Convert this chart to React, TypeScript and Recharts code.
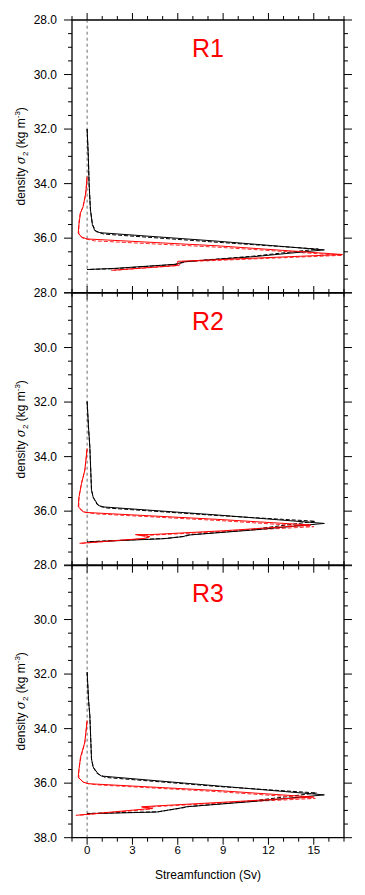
import React from 'react';
import { ScatterChart, Scatter, XAxis, YAxis, ReferenceLine, ReferenceArea } from 'recharts';

// ---------- data ----------
const X_TICKS = [-1, 0, 1, 2, 3, 4, 5, 6, 7, 8, 9, 10, 11, 12, 13, 14, 15, 16, 17];
const X_MAJOR = [0, 3, 6, 9, 12, 15];
const Y_TICKS = [28, 28.5, 29, 29.5, 30, 30.5, 31, 31.5, 32, 32.5, 33, 33.5, 34, 34.5, 35, 35.5, 36, 36.5, 37, 37.5, 38];
const Y_MAJOR = [28, 30, 32, 34, 36, 38];
const PANEL_TITLES = ['R1', 'R2', 'R3'];

const R1_BLACK_SOLID = [
  { v: 0, d: 32.0 }, { v: 0.08, d: 33.0 }, { v: 0.13, d: 34.0 }, { v: 0.22, d: 34.96 }, { v: 0.35, d: 35.5 },
  { v: 0.5, d: 35.72 }, { v: 0.85, d: 35.8 }, { v: 8.6, d: 36.11 }, { v: 15.7, d: 36.43 },
  { v: 11.0, d: 36.68 }, { v: 6.5, d: 36.86 }, { v: 6.2, d: 36.9 }, { v: 5.8, d: 36.96 }, { v: 1.8, d: 37.11 }, { v: 0, d: 37.15 },
];
const R1_BLACK_DASHED = [
  { v: 0, d: 32.0 }, { v: 0.08, d: 33.0 }, { v: 0.13, d: 34.0 }, { v: 0.22, d: 34.96 }, { v: 0.35, d: 35.5 },
  { v: 0.6, d: 35.76 }, { v: 1.1, d: 35.85 }, { v: 8.6, d: 36.15 }, { v: 15.3, d: 36.4 },
  { v: 11.0, d: 36.66 }, { v: 6.7, d: 36.85 }, { v: 6.3, d: 36.9 }, { v: 5.8, d: 36.97 }, { v: 1.8, d: 37.12 }, { v: 0, d: 37.15 },
];
const R1_RED_SOLID = [
  { v: 0, d: 33.74 }, { v: -0.09, d: 34.35 }, { v: -0.26, d: 34.84 }, { v: -0.44, d: 35.08 }, { v: -0.53, d: 35.45 },
  { v: -0.59, d: 35.81 }, { v: -0.37, d: 35.96 }, { v: 0, d: 36.03 }, { v: 8.6, d: 36.28 }, { v: 16.9, d: 36.6 },
  { v: 6.0, d: 36.85 }, { v: 6.0, d: 37.0 }, { v: 1.6, d: 37.18 },
];
const R1_RED_DASHED = [
  { v: 0, d: 33.8 }, { v: -0.1, d: 34.4 }, { v: -0.28, d: 34.86 }, { v: -0.46, d: 35.1 }, { v: -0.55, d: 35.47 },
  { v: -0.55, d: 35.85 }, { v: -0.3, d: 36.0 }, { v: 0.5, d: 36.1 }, { v: 8.6, d: 36.33 }, { v: 16.9, d: 36.63 },
  { v: 6.2, d: 36.87 }, { v: 6.1, d: 37.0 }, { v: 1.8, d: 37.18 },
];

const R2_BLACK_SOLID = [
  { v: 0, d: 31.98 }, { v: 0.1, d: 33.0 }, { v: 0.18, d: 33.64 }, { v: 0.29, d: 35.22 }, { v: 0.4, d: 35.49 },
  { v: 0.73, d: 35.78 }, { v: 0.95, d: 35.84 }, { v: 8.6, d: 36.14 }, { v: 15.7, d: 36.45 },
  { v: 10.8, d: 36.7 }, { v: 6.6, d: 36.88 }, { v: 6.4, d: 36.93 }, { v: 5.1, d: 37.01 }, { v: 0, d: 37.13 },
];
const R2_BLACK_DASHED = [
  { v: 0, d: 31.98 }, { v: 0.1, d: 33.0 }, { v: 0.18, d: 33.64 }, { v: 0.29, d: 35.22 }, { v: 0.4, d: 35.49 },
  { v: 0.65, d: 35.75 }, { v: 1.2, d: 35.88 }, { v: 8.6, d: 36.16 }, { v: 15.1, d: 36.37 },
  { v: 10.8, d: 36.68 }, { v: 6.8, d: 36.87 }, { v: 6.5, d: 36.92 }, { v: 5.2, d: 37.0 }, { v: 0, d: 37.12 },
];
const R2_RED_SOLID = [
  { v: 0, d: 33.7 }, { v: -0.15, d: 34.5 }, { v: -0.37, d: 34.98 }, { v: -0.53, d: 35.47 }, { v: -0.59, d: 35.84 },
  { v: -0.26, d: 36.02 }, { v: 0, d: 36.05 }, { v: 8.6, d: 36.3 }, { v: 14.8, d: 36.51 },
  { v: 9.0, d: 36.72 }, { v: 4.2, d: 36.86 }, { v: 3.2, d: 36.86 }, { v: 4.15, d: 36.93 }, { v: 3.8, d: 37.0 }, { v: -0.5, d: 37.18 },
];
const R2_RED_DASHED = [
  { v: 0, d: 33.75 }, { v: -0.16, d: 34.52 }, { v: -0.38, d: 35.0 }, { v: -0.55, d: 35.5 }, { v: -0.55, d: 35.88 },
  { v: -0.2, d: 36.04 }, { v: 0.6, d: 36.1 }, { v: 8.6, d: 36.34 }, { v: 15.0, d: 36.57 },
  { v: 9.2, d: 36.74 }, { v: 4.3, d: 36.88 }, { v: 3.4, d: 36.88 }, { v: 4.1, d: 36.95 }, { v: 3.7, d: 37.01 }, { v: -0.4, d: 37.18 },
];

const R3_BLACK_SOLID = [
  { v: 0, d: 31.93 }, { v: 0.1, d: 33.0 }, { v: 0.18, d: 33.52 }, { v: 0.29, d: 35.11 }, { v: 0.4, d: 35.41 },
  { v: 0.73, d: 35.66 }, { v: 0.95, d: 35.74 }, { v: 8.6, d: 36.1 }, { v: 15.7, d: 36.43 },
  { v: 10.8, d: 36.68 }, { v: 6.5, d: 36.87 }, { v: 6.2, d: 36.91 }, { v: 4.6, d: 37.06 }, { v: 0, d: 37.12 },
];
const R3_BLACK_DASHED = [
  { v: 0, d: 31.93 }, { v: 0.1, d: 33.0 }, { v: 0.18, d: 33.52 }, { v: 0.29, d: 35.11 }, { v: 0.4, d: 35.41 },
  { v: 0.65, d: 35.64 }, { v: 1.2, d: 35.79 }, { v: 8.6, d: 36.12 }, { v: 15.2, d: 36.36 },
  { v: 10.8, d: 36.66 }, { v: 6.7, d: 36.86 }, { v: 6.4, d: 36.9 }, { v: 4.7, d: 37.05 }, { v: 0, d: 37.11 },
];
const R3_RED_SOLID = [
  { v: 0, d: 33.7 }, { v: -0.15, d: 34.5 }, { v: -0.44, d: 35.05 }, { v: -0.53, d: 35.47 }, { v: -0.59, d: 35.78 },
  { v: -0.26, d: 35.96 }, { v: 0.07, d: 36.02 }, { v: 8.6, d: 36.27 }, { v: 15.0, d: 36.51 },
  { v: 9.0, d: 36.7 }, { v: 4.4, d: 36.84 }, { v: 3.6, d: 36.87 }, { v: 4.35, d: 36.92 }, { v: 3.8, d: 36.95 }, { v: -0.75, d: 37.18 },
];
const R3_RED_DASHED = [
  { v: 0, d: 33.75 }, { v: -0.16, d: 34.52 }, { v: -0.42, d: 35.08 }, { v: -0.55, d: 35.5 }, { v: -0.55, d: 35.82 },
  { v: -0.2, d: 35.99 }, { v: 0.6, d: 36.06 }, { v: 8.6, d: 36.31 }, { v: 15.1, d: 36.56 },
  { v: 9.2, d: 36.72 }, { v: 4.5, d: 36.86 }, { v: 3.7, d: 36.89 }, { v: 4.3, d: 36.94 }, { v: 3.9, d: 36.97 }, { v: -0.6, d: 37.18 },
];

const PANELS = [
  { bs: R1_BLACK_SOLID, bd: R1_BLACK_DASHED, rs: R1_RED_SOLID, rd: R1_RED_DASHED },
  { bs: R2_BLACK_SOLID, bd: R2_BLACK_DASHED, rs: R2_RED_SOLID, rd: R2_RED_DASHED },
  { bs: R3_BLACK_SOLID, bd: R3_BLACK_DASHED, rs: R3_RED_SOLID, rd: R3_RED_DASHED },
];

// ---------- layout ----------
const FONT = '"Liberation Sans", Arial, Helvetica, sans-serif';
const W = 365;
const LEFT = 72;
const RIGHT = 344;
const PT = 30;
const PH = 272.7;
const PANEL_TOPS = [20, 292.7, 565.4];

const Empty = () => <g />;

function Panel({ idx }: { idx: number }) {
  const last = idx === 2;
  const PB = last ? 60 : 30;
  const H = PT + PH + PB;
  const bottomY = PT + PH;
  const p = PANELS[idx];

  const YTick = (props: any) => {
    const { y, payload } = props;
    const v = payload.value;
    const major = Y_MAJOR.includes(v);
    const len = major ? 8 : 4;
    const showLabel = major && (v !== 38 || last);
    return (
      <g>
        <line x1={LEFT - len} x2={LEFT} y1={y} y2={y} stroke="#000" strokeWidth={1} />
        <line x1={RIGHT} x2={RIGHT + len} y1={y} y2={y} stroke="#000" strokeWidth={1} />
        {showLabel && (
          <text x={57} y={y} dy={4.3} textAnchor="end" fontSize={12} fontFamily={FONT} fill="#000">
            {v.toFixed(1)}
          </text>
        )}
      </g>
    );
  };

  const XTick = (props: any) => {
    const { x, payload } = props;
    const v = payload.value;
    const major = X_MAJOR.includes(v);
    const len = major ? 7 : 4;
    return (
      <g>
        <line x1={x} x2={x} y1={PT - len} y2={PT} stroke="#000" strokeWidth={1} />
        <line x1={x} x2={x} y1={bottomY} y2={bottomY + len} stroke="#000" strokeWidth={1} />
        {last && major && (
          <text x={x} y={bottomY + 16} textAnchor="middle" fontSize={11.5} fontFamily={FONT} fill="#000">
            {String(v)}
          </text>
        )}
      </g>
    );
  };

  const cy = PT + PH / 2;

  return (
    <div style={{ position: 'absolute', left: 0, top: PANEL_TOPS[idx] - PT }}>
      <ScatterChart width={W} height={H} margin={{ top: PT, right: W - RIGHT, bottom: 0, left: 0 }}>
        <XAxis
          type="number"
          dataKey="v"
          domain={[-1, 17]}
          ticks={X_TICKS}
          interval={0}
          tick={(tp: any) => <XTick {...tp} />}
          tickLine={false}
          axisLine={false}
          height={PB}
          allowDataOverflow
        />
        <YAxis
          type="number"
          dataKey="d"
          domain={[28, 38]}
          ticks={Y_TICKS}
          interval={0}
          reversed
          tick={(tp: any) => <YTick {...tp} />}
          tickLine={false}
          axisLine={false}
          width={LEFT}
          allowDataOverflow
        />
        <ReferenceLine x={0} stroke="#444" strokeDasharray="3 3" strokeWidth={0.8} />
        <Scatter data={p.bd} shape={Empty} isAnimationActive={false}
          line={{ stroke: '#000', strokeWidth: 1, strokeDasharray: '4 2' }} fill="#000" />
        <Scatter data={p.rd} shape={Empty} isAnimationActive={false}
          line={{ stroke: '#ff2a2a', strokeWidth: 1, strokeDasharray: '4 2' }} fill="#ff2a2a" />
        <Scatter data={p.bs} shape={Empty} isAnimationActive={false}
          line={{ stroke: '#000', strokeWidth: 1 }} fill="#000" />
        <Scatter data={p.rs} shape={Empty} isAnimationActive={false}
          line={{ stroke: '#ff0000', strokeWidth: 1 }} fill="#ff0000" />
        <ReferenceArea x1={-1} x2={17} y1={28} y2={38} fill="none" fillOpacity={0} stroke="#000" strokeWidth={1.3} />
        <text x={(LEFT + RIGHT) / 2} y={PT + 37} textAnchor="middle" fontSize={25} fontFamily={FONT} fill="#ff0000">
          {PANEL_TITLES[idx]}
        </text>
        <text x={25} y={cy} transform={`rotate(-90, 25, ${cy})`} textAnchor="middle" fontSize={12} fontFamily={FONT} fill="#000">
          density <tspan fontStyle="italic" fontFamily="'DejaVu Serif', serif">σ</tspan>
          <tspan dy={3} fontSize={8}>2</tspan>
          <tspan dy={-3}> (kg m</tspan>
          <tspan dy={-5} fontSize={8}>-3</tspan>
          <tspan dy={5}>)</tspan>
        </text>
        {last && (
          <text x={(LEFT + RIGHT) / 2} y={bottomY + 41} textAnchor="middle" fontSize={12} fontFamily={FONT} fill="#000">
            Streamfunction (Sv)
          </text>
        )}
      </ScatterChart>
    </div>
  );
}

export default function App() {
  return (
    <div style={{ position: 'relative', width: W, height: 895 }}>
      <div style={{ position: 'absolute', left: -8, top: -8 }}>
        <Panel idx={0} />
        <Panel idx={1} />
        <Panel idx={2} />
      </div>
    </div>
  );
}
